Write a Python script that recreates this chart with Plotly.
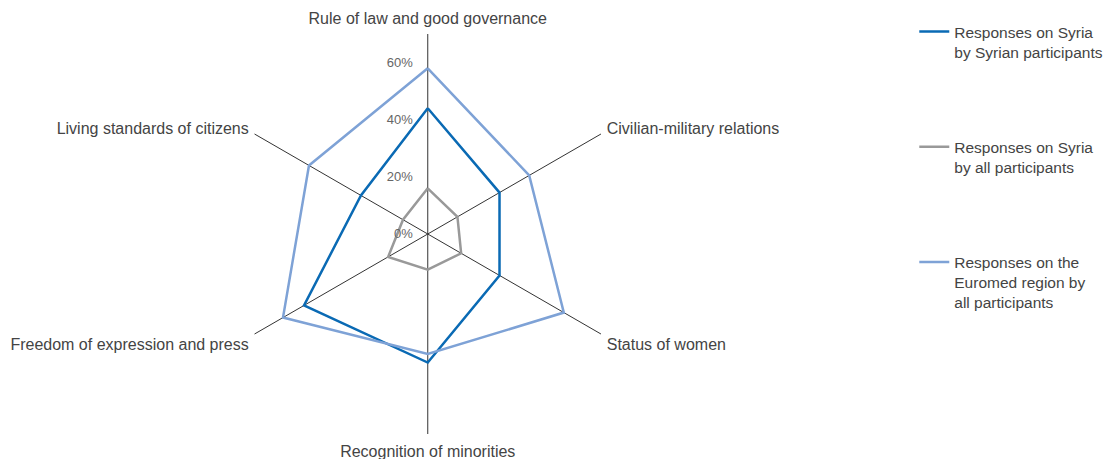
import plotly.graph_objects as go

categories = [
    "Rule of law and good governance",
    "Civilian-military relations",
    "Status of women",
    "Recognition of minorities",
    "Freedom of expression and press",
    "Living standards of citizens",
]
syria_by_syrians = [44, 29, 29, 45, 50, 27]
syria_by_all = [16, 12, 13.5, 12.5, 16, 10]
euromed_by_all = [58, 41, 55, 42, 58.5, 48]

series_names = [
    "Responses on Syria<br>by Syrian participants",
    "Responses on Syria<br>by all participants",
    "Responses on the<br>Euromed region by<br>all participants",
]
series_colors = ["#0a6ab4", "#999999", "#7ea2d6"]
radial_ticks = [0, 20, 40, 60]

fig = go.Figure()
for name, vals, color in zip(series_names,
                             [syria_by_syrians, syria_by_all, euromed_by_all],
                             series_colors):
    fig.add_trace(go.Scatterpolar(
        r=vals + vals[:1],
        theta=categories + categories[:1],
        mode="lines",
        name=name,
        legendgroup=name,
        line=dict(color=color, width=2.5),
    ))

fig.update_layout(
    width=1112,
    height=459,
    margin=dict(l=0, r=0, t=0, b=0),
    paper_bgcolor="white",
    plot_bgcolor="white",
    font=dict(family="Liberation Sans, Arial, sans-serif", size=16, color="#444444"),
    polar=dict(
        domain=dict(x=[219.75 / 1112, 619.75 / 1112], y=[33 / 459, 433 / 459]),
        bgcolor="white",
        angularaxis=dict(
            rotation=90,
            direction="clockwise",
            showline=False,
            showgrid=True,
            gridcolor="#333333",
            gridwidth=1,
            ticks="outside",
            ticklen=3,
            tickcolor="rgba(0,0,0,0)",
            tickfont=dict(size=16, color="#444444"),
        ),
        radialaxis=dict(
            range=[0, 70],
            angle=90,
            tickangle=90,
            side="counterclockwise",
            tickvals=radial_ticks,
            ticktext=[f"{v}%" for v in radial_ticks],
            showgrid=False,
            showline=False,
            ticks="outside",
            ticklen=10,
            tickcolor="rgba(0,0,0,0)",
            tickfont=dict(size=13, color="#666666"),
        ),
    ),
    legend=dict(
        x=0.815,
        y=0.985,
        xanchor="left",
        yanchor="top",
        valign="top",
        tracegroupgap=72,
        itemwidth=30,
        font=dict(size=15.5, color="#444444"),
    ),
)

fig.write_html("out.html")
